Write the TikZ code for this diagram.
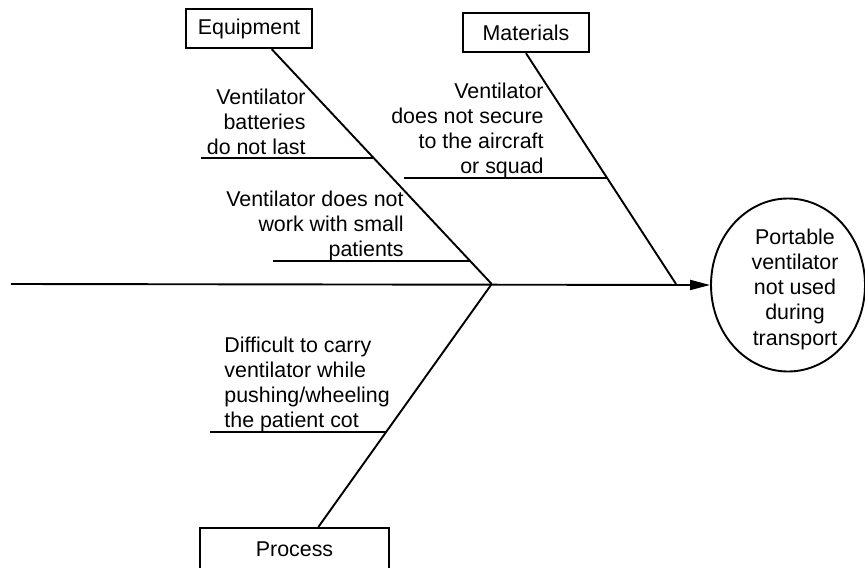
\documentclass[tikz,border=0pt]{standalone}
\usepackage{fontspec}
\setmainfont{Liberation Sans}
\usetikzlibrary{arrows.meta,shapes.geometric,calc}

\tikzset{
  bone/.style={line width=0.95pt},
  spine/.style={line width=0.95pt,-{Triangle[length=10pt,width=5pt]}},
  cause/.style={draw,line width=0.95pt,inner sep=0pt,font=\fontsize{10.7}{12.6}\selectfont},
  effect/.style={draw,ellipse,line width=0.95pt,minimum width=77pt,minimum height=86.5pt,inner sep=0pt},
  note/.style={inner sep=0pt,text depth=0pt,font=\fontsize{10.7}{12.6}\selectfont}
}

\begin{document}
\begin{tikzpicture}[x=0.5pt,y=-0.5pt]
  \useasboundingbox (0,0) rectangle (865,567);

  % effect and spine
  \node[effect] (eff) at (788,285) {};
  \node[note,align=center] (efft) at (795,287) {Portable\\ventilator\\not used\\during\\transport};
  \coordinate (tail) at (11,284);
  \coordinate (j1) at (491.7,284);
  \coordinate (j2) at (676,284);
  \draw[spine] (tail) -- (eff.west);

  % categories
  \node[cause,minimum width=63pt,minimum height=19.5pt] (equip) at (249,28.7) {Equipment};
  \node[cause,minimum width=63pt,minimum height=19.8pt] (mater) at (526,32.5) {Materials};
  \node[cause,minimum width=94.5pt,minimum height=21pt] (proc) at (294.5,549) {Process};

  \coordinate (eqtop) at ($(equip.south)+(22.7,0)$);
  \coordinate (mttop) at (mater.south);
  \coordinate (prtop) at ($(proc.north)+(23.8,0)$);
  \draw[bone] (eqtop) -- (j1);
  \draw[bone] (mttop) -- (j2);
  \draw[bone] (prtop) -- (j1);

  % causes
  \coordinate (e1) at ($(eqtop)!0.4667!(j1)$);
  \coordinate (e2) at ($(eqtop)!0.901!(j1)$);
  \coordinate (m1) at ($(mttop)!0.544!(j2)$);
  \coordinate (p1) at ($(prtop)!0.395!(j1)$);
  \coordinate (e1l) at (201,158.3);
  \coordinate (e2l) at (273,260.7);
  \coordinate (m1l) at (404,178.3);
  \coordinate (p1l) at (210,431.7);
  \draw[bone] (e1l) -- (e1l -| e1);
  \draw[bone] (e2l) -- (e2l -| e2);
  \draw[bone] (m1l) -- (m1l -| m1);
  \draw[bone] (p1l) -- (p1l -| p1);

  \node[note,align=right,anchor=south east] (c1) at (306,155) {Ventilator\\batteries\\do not last};
  \node[note,align=right,anchor=south east] (c2) at (404,257) {Ventilator does not\\work with small\\patients};
  \node[note,align=right,anchor=south east] (c3) at (544,174) {Ventilator\\does not secure\\to the aircraft\\or squad};
  \node[note,align=left,anchor=south west] (c4) at (224,428) {Difficult to carry\\ventilator while\\pushing/wheeling\\the patient cot};
\end{tikzpicture}
\end{document}
